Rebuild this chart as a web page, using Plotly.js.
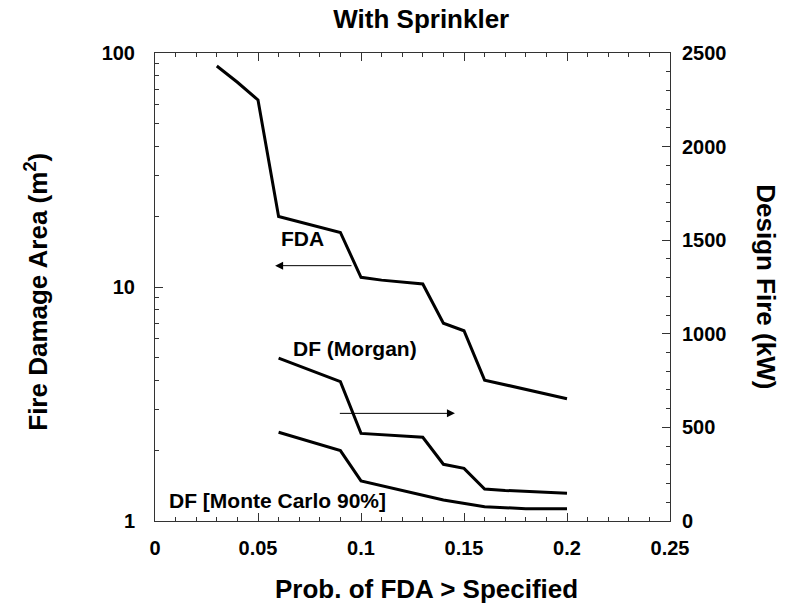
<!DOCTYPE html>
<html>
<head>
<meta charset="utf-8">
<script src="https://cdn.plot.ly/plotly-3.0.1.min.js"></script>
<style>html,body{margin:0;padding:0;background:#fff;}#chart{width:797px;height:606px;}</style>
</head>
<body>
<div id="chart"></div>
<script>
// FDA curve (left axis, m^2, log)
const fdaX = [0.03, 0.04, 0.05, 0.06, 0.09, 0.10, 0.11, 0.13, 0.14, 0.15, 0.16, 0.20];
const fdaY = [88, 75, 63, 20, 17.1, 11.0, 10.7, 10.3, 7.0, 6.5, 4.0, 3.33];
// Design fire, Morgan (right axis, kW)
const morganX = [0.06, 0.09, 0.10, 0.13, 0.14, 0.15, 0.16, 0.17, 0.20];
const morganY = [870, 744, 468, 447, 303, 281, 171, 163, 148];
// Design fire, Monte Carlo 90% (right axis, kW)
const mcX = [0.06, 0.09, 0.10, 0.14, 0.16, 0.18, 0.20];
const mcY = [474, 376, 214, 112, 76, 66, 66];

const xTickVals = [0, 0.05, 0.1, 0.15, 0.2, 0.25];
const xTickText = ['0', '0.05', '0.1', '0.15', '0.2', '0.25'];
const yTickVals = [1, 10, 100];
const yTickText = ['1', '10', '100'];
const y2TickVals = [0, 500, 1000, 1500, 2000, 2500];

const F = 'Liberation Sans, Arial, sans-serif';
const tickFont = {family: F, size: 20, color: '#000', weight: 700};
const labelFont = {family: F, size: 21, color: '#000', weight: 700};
const titleFont = {family: F, size: 26, color: '#000', weight: 700};
const lineStyle = {color: '#000', width: 3};

const traces = [
  {x: fdaX, y: fdaY, type: 'scatter', mode: 'lines', line: lineStyle, yaxis: 'y', name: 'FDA'},
  {x: morganX, y: morganY, type: 'scatter', mode: 'lines', line: lineStyle, yaxis: 'y2', name: 'DF (Morgan)'},
  {x: mcX, y: mcY, type: 'scatter', mode: 'lines', line: lineStyle, yaxis: 'y2', name: 'DF [Monte Carlo 90%]'}
];

const layout = {
  width: 797, height: 606,
  margin: {l: 155, r: 127, t: 53, b: 85},
  paper_bgcolor: '#fff', plot_bgcolor: '#fff',
  showlegend: false,
  title: {text: 'With Sprinkler', font: titleFont,
          x: 0.517, xref: 'paper', xanchor: 'center', y: 0.969, yref: 'container', yanchor: 'middle'},
  xaxis: {
    range: [0, 0.25], tickvals: xTickVals, ticktext: xTickText,
    ticks: 'inside', ticklen: 8, tickwidth: 1, tickcolor: '#333',
    minor: {dtick: 0.01, ticks: 'inside', ticklen: 4, tickwidth: 1, tickcolor: '#333', showgrid: false},
    showline: true, linecolor: '#333', linewidth: 1, mirror: 'ticks',
    showgrid: false, zeroline: false, tickfont: tickFont, ticklabelstandoff: 9
  },
  yaxis: {
    type: 'log', range: [0, 2], tickvals: yTickVals, ticktext: yTickText,
    ticks: 'inside', ticklen: 8, tickwidth: 1, tickcolor: '#333',
    minor: {dtick: 'D1', ticks: 'inside', ticklen: 4, tickwidth: 1, tickcolor: '#333', showgrid: false},
    showline: true, linecolor: '#333', linewidth: 1, mirror: false,
    showgrid: false, zeroline: false, tickfont: tickFont, ticklabelstandoff: 15
  },
  yaxis2: {
    overlaying: 'y', side: 'right', range: [0, 2500], tickvals: y2TickVals,
    ticks: 'inside', ticklen: 8, tickwidth: 1, tickcolor: '#333',
    minor: {dtick: 100, ticks: 'inside', ticklen: 4, tickwidth: 1, tickcolor: '#333', showgrid: false},
    showline: true, linecolor: '#333', linewidth: 1,
    showgrid: false, zeroline: false, tickfont: tickFont, ticklabelstandoff: 7
  },
  annotations: [
    {text: 'Prob. of FDA &gt; Specified', xref: 'paper', yref: 'paper', x: 0.528, y: -0.145, xanchor: 'center', yanchor: 'middle',
     showarrow: false, font: titleFont},
    {text: 'Fire Damage Area (m<sup>2</sup>)', textangle: -90, xref: 'paper', yref: 'paper', x: -0.229, y: 0.49, xanchor: 'center', yanchor: 'middle',
     showarrow: false, font: titleFont},
    {text: 'Design Fire (kW)', textangle: 90, xref: 'paper', yref: 'paper', x: 1.186, y: 0.5, xanchor: 'center', yanchor: 'middle',
     showarrow: false, font: titleFont},
    {text: 'FDA', xref: 'x', yref: 'y2', x: 0.0715, y: 1510, showarrow: false, font: labelFont},
    {text: 'DF (Morgan)', xref: 'x', yref: 'y2', x: 0.097, y: 920, showarrow: false, font: labelFont},
    {text: 'DF [Monte Carlo 90%]', xref: 'x', yref: 'y2', x: 0.0595, y: 112, showarrow: false, font: labelFont},
    {text: '', xref: 'x', yref: 'y2', x: 0.0583, y: 1364, axref: 'x', ayref: 'y2', ax: 0.0961, ay: 1364,
     showarrow: true, arrowhead: 2, arrowsize: 1.6, arrowwidth: 1, arrowcolor: '#000'},
    {text: '', xref: 'x', yref: 'y2', x: 0.1456, y: 575, axref: 'x', ayref: 'y2', ax: 0.0890, ay: 575,
     showarrow: true, arrowhead: 2, arrowsize: 1.6, arrowwidth: 1, arrowcolor: '#000'}
  ]
};

Plotly.newPlot('chart', traces, layout, {displayModeBar: false, staticPlot: true});
</script>
</body>
</html>
